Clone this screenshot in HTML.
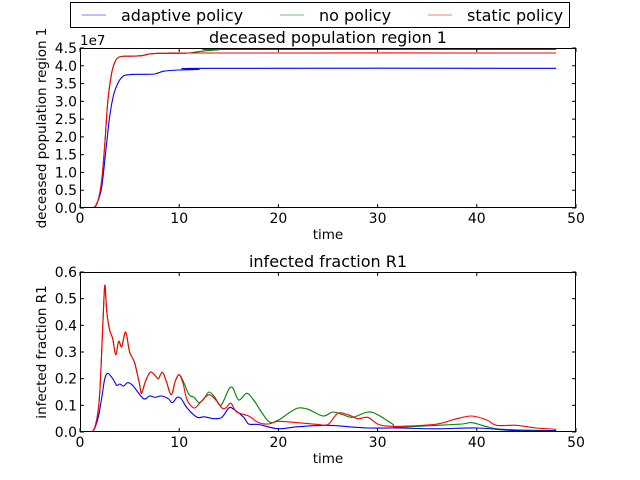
<!DOCTYPE html>
<html><head><meta charset="utf-8"><style>
body{margin:0;background:#fff;}
svg{display:block;font-family:"DejaVu Sans","Liberation Sans",sans-serif;}
</style></head><body>
<svg id="chart" width="640" height="480" viewBox="0 0 640 480">
<g>
<rect x="70.5" y="2.5" width="499" height="25" fill="#fff" stroke="#000"/>
<g><line x1="82" y1="15" x2="106" y2="15" stroke="#0000ff" stroke-opacity="0.5"/><text x="121" y="21" font-size="16">adaptive policy</text></g>
<g><line x1="280" y1="15" x2="304" y2="15" stroke="#008000" stroke-opacity="0.5"/><text x="319" y="21" font-size="16">no policy</text></g>
<g><line x1="428" y1="15" x2="452" y2="15" stroke="#ff0000" stroke-opacity="0.5"/><text x="467" y="21" font-size="16">static policy</text></g>
</g>
<g id="ax1"></g>
<g id="ax2"></g>
</svg>
<script>
const xTicks=[0,10,20,30,40,50];
const decTicks=[0,0.5,1,1.5,2,2.5,3,3.5,4,4.5];
const decTickLabels=["0.0","0.5","1.0","1.5","2.0","2.5","3.0","3.5","4.0","4.5"];
const infTicks=[0,0.1,0.2,0.3,0.4,0.5,0.6];
const infTickLabels=["0.0","0.1","0.2","0.3","0.4","0.5","0.6"];
const decStaticT=[0,1.3,1.8,2.2,2.5,2.8,3.2,3.6,4,4.5,5,6,6.5,7,8,10,12,48];
const decStaticV=[0,0,0.2,0.8,1.8,3.0,3.8,4.15,4.25,4.27,4.27,4.28,4.3,4.33,4.35,4.35,4.36,4.36];
const decNoT=[0,1.3,1.8,2.2,2.5,2.8,3.2,3.6,4,4.5,5,6,6.5,7,8,10,11,12,13,14,15,48];
const decNoV=[0,0,0.2,0.8,1.8,3.0,3.8,4.15,4.25,4.27,4.27,4.28,4.3,4.33,4.35,4.35,4.36,4.40,4.43,4.45,4.46,4.46];
const decAdaptT=[0,1.3,1.8,2.2,2.6,3,3.4,3.8,4.3,5,6,7.5,8.5,10,12,13,48];
const decAdaptV=[0,0,0.2,0.6,1.6,2.6,3.2,3.5,3.7,3.75,3.76,3.77,3.85,3.88,3.9,3.93,3.93];
const infStaticT=[0,1.2,1.7,2.0,2.3,2.5,2.7,3.0,3.3,3.6,3.9,4.2,4.6,5.0,5.5,6.0,6.2,6.6,7.1,7.6,7.9,8.3,8.7,9.2,9.6,10,10.4,10.8,11.5,12.1,13,13.8,14.3,14.7,15.2,15.8,17,18,19,20,22,24,25,26,27,28,29,30,31,33,36,38,39.5,41,42,44,46,48];
const infStaticV=[0,0,0.05,0.15,0.4,0.55,0.45,0.38,0.35,0.29,0.34,0.32,0.375,0.30,0.26,0.18,0.145,0.19,0.225,0.21,0.2,0.225,0.19,0.14,0.19,0.215,0.18,0.12,0.09,0.11,0.14,0.115,0.09,0.09,0.108,0.075,0.06,0.035,0.03,0.04,0.035,0.028,0.028,0.07,0.065,0.05,0.055,0.03,0.022,0.022,0.03,0.05,0.06,0.045,0.025,0.025,0.015,0.01];
const infNoT=[0,1.2,1.7,2.0,2.3,2.5,2.7,3.0,3.3,3.6,3.9,4.2,4.6,5.0,5.5,6.0,6.2,6.6,7.1,7.6,7.9,8.3,8.7,9.2,9.6,10,10.4,11,11.5,12,12.5,13,13.6,14.2,15,15.4,16,16.8,17.5,19,20,21,22,23,24.5,25.5,26.5,27.5,29,30,31.5,32,36,38.5,39.5,41,42,44,48];
const infNoV=[0,0,0.05,0.15,0.4,0.55,0.45,0.38,0.35,0.29,0.34,0.32,0.375,0.30,0.26,0.18,0.145,0.19,0.225,0.21,0.2,0.225,0.19,0.14,0.19,0.215,0.19,0.14,0.13,0.11,0.125,0.15,0.13,0.1,0.16,0.165,0.12,0.145,0.12,0.04,0.045,0.07,0.09,0.085,0.06,0.075,0.065,0.055,0.075,0.065,0.03,0.018,0.025,0.03,0.035,0.02,0.012,0.008,0.005];
const infAdaptT=[0,1.2,1.8,2.2,2.5,2.8,3.3,3.7,4,4.4,4.8,5.3,6.4,7.0,7.6,8.2,8.9,9.3,9.8,10.2,10.8,11.8,12.5,13.5,14.3,15,15.5,16.5,17,18,20,22,25,27,29,32,36,40,44,48];
const infAdaptV=[0,0,0.05,0.13,0.2,0.22,0.2,0.175,0.18,0.172,0.185,0.175,0.125,0.135,0.13,0.135,0.125,0.11,0.13,0.125,0.09,0.055,0.057,0.05,0.055,0.09,0.085,0.055,0.03,0.028,0.012,0.02,0.025,0.02,0.015,0.015,0.012,0.015,0.005,0.005];

const NS="http://www.w3.org/2000/svg";
function mk(tag,attrs,parent,txt){const e=document.createElementNS(NS,tag);for(const k in attrs)e.setAttribute(k,attrs[k]);if(txt!==undefined)e.textContent=txt;parent.appendChild(e);return e;}
function smoothPath(P){
  let d='M'+P[0][0].toFixed(1)+','+P[0][1].toFixed(1);
  for(let i=0;i<P.length-1;i++){
    const p0=P[Math.max(0,i-1)],p1=P[i],p2=P[i+1],p3=P[Math.min(P.length-1,i+2)];
    const k=0.16;
    const c1=[p1[0]+(p2[0]-p0[0])*k,p1[1]+(p2[1]-p0[1])*k];
    const c2=[p2[0]-(p3[0]-p1[0])*k,p2[1]-(p3[1]-p1[1])*k];
    d+=' C'+c1[0].toFixed(1)+','+c1[1].toFixed(1)+' '+c2[0].toFixed(1)+','+c2[1].toFixed(1)+' '+p2[0].toFixed(1)+','+p2[1].toFixed(1);
  }
  return d;
}
function axes(g,top,ymax,yTicks,yLabels,title,ylabel,series,expo){
  const L=80,R=576,B=top+160;
  const xs=t=>L+t/50*(R-L), ys=v=>B-v/ymax*160;
  const clip='c'+top;
  const cp=mk('clipPath',{id:clip},g);mk('rect',{x:L,y:top,width:R-L,height:160},cp);
  series.forEach(s=>{
    const P=s.t.map((t,i)=>[xs(t),ys(s.v[i])]);
    const pl=mk('path',{d:smoothPath(P),fill:'none',stroke:s.c,'stroke-width':1.1,'clip-path':'url(#'+clip+')'},g);
    
    
  });
  const fr=mk('rect',{x:L+0.5,y:top+0.5,width:R-L-1,height:159,fill:'none',stroke:'#000'},g);
  
  
  xTicks.forEach(t=>{const x=xs(t);
    mk('line',{x1:x,y1:B,x2:x,y2:B-4,stroke:'#000'},g);mk('line',{x1:x,y1:top,x2:x,y2:top+4,stroke:'#000'},g);
    const tl=mk('text',{x:x,y:B+15,'font-size':14,'text-anchor':'middle'},g,String(t));
    
    
  });
  yTicks.forEach((v,i)=>{const y=ys(v);
    mk('line',{x1:L,y1:y,x2:L+4,y2:y,stroke:'#000'},g);mk('line',{x1:R,y1:y,x2:R-4,y2:y,stroke:'#000'},g);
    const tl=mk('text',{x:L-3,y:y+5,'font-size':14,'text-anchor':'end'},g,yLabels[i]);
    
    
  });
  const tt=mk('text',{x:328,y:top-5,'font-size':16,'text-anchor':'middle'},g,title);
  
  
  const xl=mk('text',{x:328,y:B+31,'font-size':13.5,'text-anchor':'middle'},g,'time');
  
  
  const yl=mk('text',{x:0,y:0,'font-size':13.5,'text-anchor':'middle',transform:'translate(46,'+(top+80)+') rotate(-90)'},g,ylabel);
  
  
  if(expo){const ex=mk('text',{x:80,y:top-3,'font-size':13.5},g,expo);
    
    }
}
axes(document.getElementById('ax1'),48,4.5,decTicks,decTickLabels,'deceased population region 1','deceased population region 1',
 [{t:decNoT,v:decNoV,c:'#008000',name:'line-no-policy'},{t:decAdaptT,v:decAdaptV,c:'#0000ff',name:'line-adaptive'},{t:decStaticT,v:decStaticV,c:'#ff0000',name:'line-static'}],'1e7');
axes(document.getElementById('ax2'),272,0.6,infTicks,infTickLabels,'infected fraction R1','infected fraction R1',
 [{t:infNoT,v:infNoV,c:'#008000',name:'line-no-policy'},{t:infAdaptT,v:infAdaptV,c:'#0000ff',name:'line-adaptive'},{t:infStaticT,v:infStaticV,c:'#ff0000',name:'line-static'}]);
</script>
</body></html>
